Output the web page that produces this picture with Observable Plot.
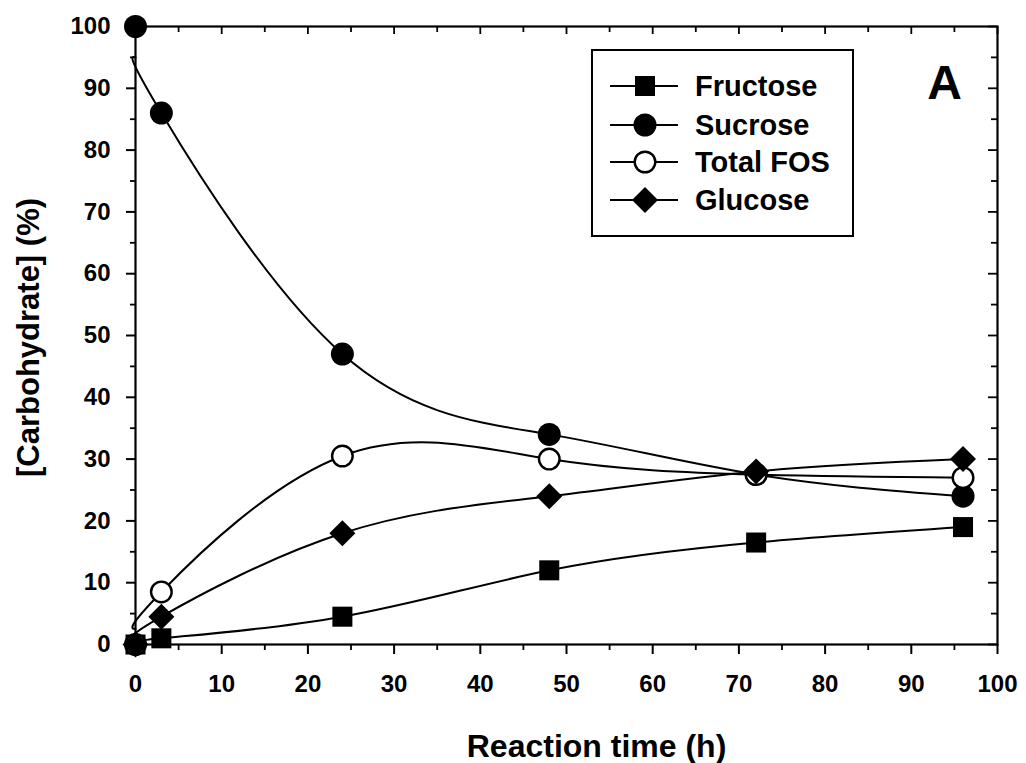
<!DOCTYPE html>
<html><head><meta charset="utf-8">
<script src="https://cdn.jsdelivr.net/npm/d3@7"></script>
<script src="https://cdn.jsdelivr.net/npm/@observablehq/plot@0.6"></script>
<style>body{margin:0;background:#fff;} #chart{width:1026px;height:763px;}</style>
</head><body><div id="chart"></div>
<script>
// ---- data ----
const time = [0, 3, 24, 48, 72, 96];
const fructose = [0, 1, 4.5, 12, 16.5, 19];
const sucrose = [100, 86, 47, 34, 27.5, 24];
const totalFOS = [0, 8.5, 30.5, 30, 27.5, 27];
const glucose = [0, 4.5, 18, 24, 28, 30];
// values of the smoothed curves as drawn (fitted, not through every point)
const fructoseFit = [0, 1, 4.5, 12, 16.5, 19];
const sucroseFit = [95, 86, 47, 34, 27.5, 24];
const totalFOSFit = [2.5, 8.5, 30.5, 30, 27.5, 27];
const glucoseFit = [1, 4.5, 18, 24, 28, 30];
const seriesNames = ["Fructose", "Sucrose", "Total FOS", "Glucose"];
const xMajor = [0, 10, 20, 30, 40, 50, 60, 70, 80, 90, 100];
const xMinor = [5, 15, 25, 35, 45, 55, 65, 75, 85, 95];
const yMajor = [0, 10, 20, 30, 40, 50, 60, 70, 80, 90, 100];
const yMinor = [5, 15, 25, 35, 45, 55, 65, 75, 85, 95];
const xLabel = "Reaction time (h)";
const yLabel = "[Carbohydrate] (%)";
const panelLabel = "A";

// ---- build tables ----
const pts = (ys, name) => time.map((t, i) => ({t, v: ys[i], name}));
const series = {
  "Fructose": {pts: pts(fructose, "Fructose"), fit: pts(fructoseFit, "Fructose"), symbol: "square", r: 11.3, fill: "black", stroke: "none"},
  "Sucrose": {pts: pts(sucrose, "Sucrose"), fit: pts(sucroseFit, "Sucrose"), symbol: "circle", r: 11.5, fill: "black", stroke: "none"},
  "Total FOS": {pts: pts(totalFOS, "Total FOS"), fit: pts(totalFOSFit, "Total FOS"), symbol: "circle", r: 10.3, fill: "white", stroke: "black"},
  "Glucose": {pts: pts(glucose, "Glucose"), fit: pts(glucoseFit, "Glucose"), symbol: "diamond2", r: 11.7, fill: "black", stroke: "none"}
};

const W = 1026, H = 763, mL = 135, mR = 29, mT = 26, mB = 119;
const iW = W - mL - mR, iH = H - mT - mB;
const font = "'Liberation Sans', Arial, Helvetica, sans-serif";

const lineMarks = seriesNames.map(n => Plot.line(series[n].fit, {x: "t", y: "v", curve: "natural", stroke: "black", strokeWidth: 2}));
const dotMarks = seriesNames.map(n => {
  const s = series[n];
  return Plot.dot(s.pts, {x: "t", y: "v", symbol: s.symbol, r: s.r, fill: s.fill, stroke: s.stroke, strokeWidth: s.stroke === "none" ? 0 : 2.4});
});

const plot = Plot.plot({
  width: W, height: H,
  marginLeft: mL, marginRight: mR, marginTop: mT, marginBottom: mB,
  x: {domain: [0, 100]},
  y: {domain: [0, 100]},
  style: {fontFamily: font, color: "black", background: "white", overflow: "visible"},
  marks: [
    // minor outward ticks bottom / left
    Plot.ruleX(xMinor, {x: d => d, insetTop: iH, insetBottom: -6, strokeWidth: 1.8}),
    Plot.ruleY(yMinor, {y: d => d, insetRight: iW, insetLeft: -5, strokeWidth: 1.8}),
    // inward ticks top / right
    Plot.ruleX(xMajor, {x: d => d, insetBottom: iH - 8, strokeWidth: 1.8}),
    Plot.ruleX(xMinor, {x: d => d, insetBottom: iH - 6, strokeWidth: 1.8}),
    Plot.ruleY(yMajor, {y: d => d, insetLeft: iW - 9, strokeWidth: 1.8}),
    Plot.ruleY(yMinor, {y: d => d, insetLeft: iW - 6, strokeWidth: 1.8}),
    Plot.axisX(xMajor, {tickSize: 10, tickPadding: 20, fontSize: 24, fontWeight: "bold", label: null, strokeWidth: 2}),
    Plot.axisY(yMajor, {tickSize: 9, tickPadding: 16, fontSize: 24, fontWeight: "bold", label: null, strokeWidth: 2}),
    Plot.frame({stroke: "black", strokeWidth: 2.2}),
    ...lineMarks,
    ...dotMarks,
    Plot.text([xLabel], {text: d => d, frameAnchor: "bottom", textAnchor: "middle", lineAnchor: "middle", dx: 30, dy: 102, fontSize: 32, fontWeight: "bold"}),
    Plot.text([yLabel], {text: d => d, frameAnchor: "left", textAnchor: "middle", lineAnchor: "middle", rotate: -90, dx: -106, dy: 2, fontSize: 31, fontWeight: "bold"}),
    Plot.text([panelLabel], {text: d => d, frameAnchor: "top-right", textAnchor: "middle", lineAnchor: "middle", dx: -53, dy: 57, fontSize: 48, fontWeight: "bold"})
  ]
});

// ---- legend box ----
const svg = d3.select(plot);
const lg = svg.append("g").attr("transform", "translate(592,50)");
lg.append("rect").attr("width", 261).attr("height", 186).attr("fill", "white").attr("stroke", "black").attr("stroke-width", 2);
const rowY = [36, 75, 112, 150];
const d3sym = {square: d3.symbolSquare, circle: d3.symbolCircle, diamond2: d3.symbolDiamond2};
seriesNames.forEach((n, i) => {
  const s = series[n];
  const g = lg.append("g").attr("transform", `translate(0,${rowY[i]})`);
  g.append("line").attr("x1", 18).attr("x2", 86).attr("stroke", "black").attr("stroke-width", 2);
  g.append("path").attr("transform", "translate(53,0)")
    .attr("d", d3.symbol(d3sym[s.symbol], Math.PI * s.r * s.r)())
    .attr("fill", s.fill).attr("stroke", s.stroke === "none" ? null : s.stroke).attr("stroke-width", 2.4);
  g.append("text").attr("x", 103).attr("dy", "0.36em").attr("text-anchor", "start")
    .attr("font-size", 29).attr("font-weight", "bold")
    .attr("font-family", font).attr("fill", "black").text(n);
});

document.getElementById("chart").appendChild(plot);
</script>
</body></html>
